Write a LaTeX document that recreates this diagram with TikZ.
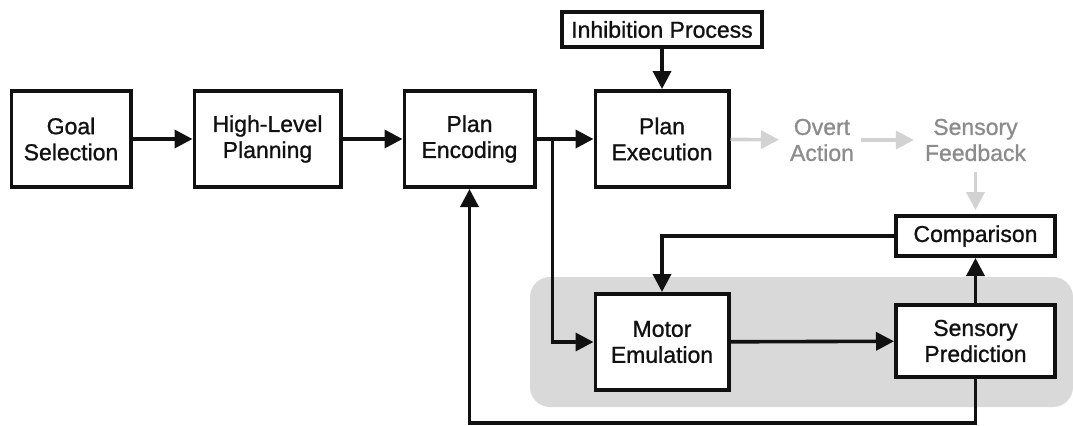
\documentclass[tikz,border=0pt]{standalone}
\usepackage{fontspec}
\setmainfont{Liberation Sans}
\newfontfamily\labelfont{Liberation Sans}[FakeBold=1]
\usetikzlibrary{arrows.meta,positioning,calc}
\definecolor{Ink}{HTML}{111111}
\definecolor{Faint}{HTML}{D2D2D2}
\definecolor{FaintText}{HTML}{8C8C8C}
\definecolor{Shade}{HTML}{D9D9D9}
\tikzset{box/.style={draw=Ink,fill=white,line width=1.8pt,align=center,inner sep=0pt,
    font=\labelfont\fontsize{11.5}{13}\selectfont,text=Ink},
  stage/.style={box,minimum height=48.2pt},
  flow/.style={-{Triangle[length=9pt,width=9pt]},line width=1.8pt,draw=Ink},
  fadedflow/.style={flow,draw=Faint,shorten >=2pt},
  overt/.style={align=center,font=\labelfont\fontsize{11.5}{13}\selectfont,text=FaintText}}

\begin{document}
\begin{tikzpicture}[x=0.5pt,y=-0.5pt]
  \useasboundingbox (0,0) rectangle (1073,425);
  \fill[Shade,rounded corners=10pt] (530,277) rectangle (1073,407);
  \node[stage,minimum width=59.7pt] (goal) at (71,139) {Goal\\Selection};
  \node[stage,minimum width=73.2pt,right=30pt of goal] (hlp) {High-Level\\Planning};
  \node[stage,minimum width=65.2pt,right=30pt of hlp] (penc) {Plan\\Encoding};
  \node[stage,minimum width=66.7pt,right=28.5pt of penc] (pexec) {Plan\\Execution};
  \node[box,minimum width=100.2pt,minimum height=17.7pt,above=20pt of pexec] (inhib) {Inhibition Process};
  \node[overt] (action) at (822,140) {Overt\\Action};
  \node[overt] (feedback) at (975.5,140) {Sensory\\Feedback};
  \node[box,minimum width=79.7pt,minimum height=20.2pt] (comp) at (975.5,236) {Comparison};
  \node[stage,minimum width=66.7pt] (motor) at (pexec |- 0,342) {Motor\\Emulation};
  \node[box,minimum width=79.7pt,minimum height=36.2pt] (spred) at (975.5,341) {Sensory\\Prediction};
  \coordinate (split) at ($(penc.east)!0.28!(pexec.west)$);
  \draw[flow] (goal) -- (hlp);
  \draw[flow] (hlp) -- (penc);
  \draw[flow] (penc) -- (pexec);
  \draw[flow] (split) |- (motor);
  \draw[flow] (inhib) -- (pexec);
  \draw[fadedflow] (pexec) -- (action);
  \draw[fadedflow] (action) -- (feedback);
  \draw[fadedflow,shorten <=2pt] (feedback) -- (comp);
  \draw[flow] (comp) -| (motor);
  \draw[flow] (motor) -- (spred);
  \draw[flow] (spred) -- (comp);
  \draw[flow] (spred.south) -- ++(0,44) -| (penc);
\end{tikzpicture}
\end{document}
